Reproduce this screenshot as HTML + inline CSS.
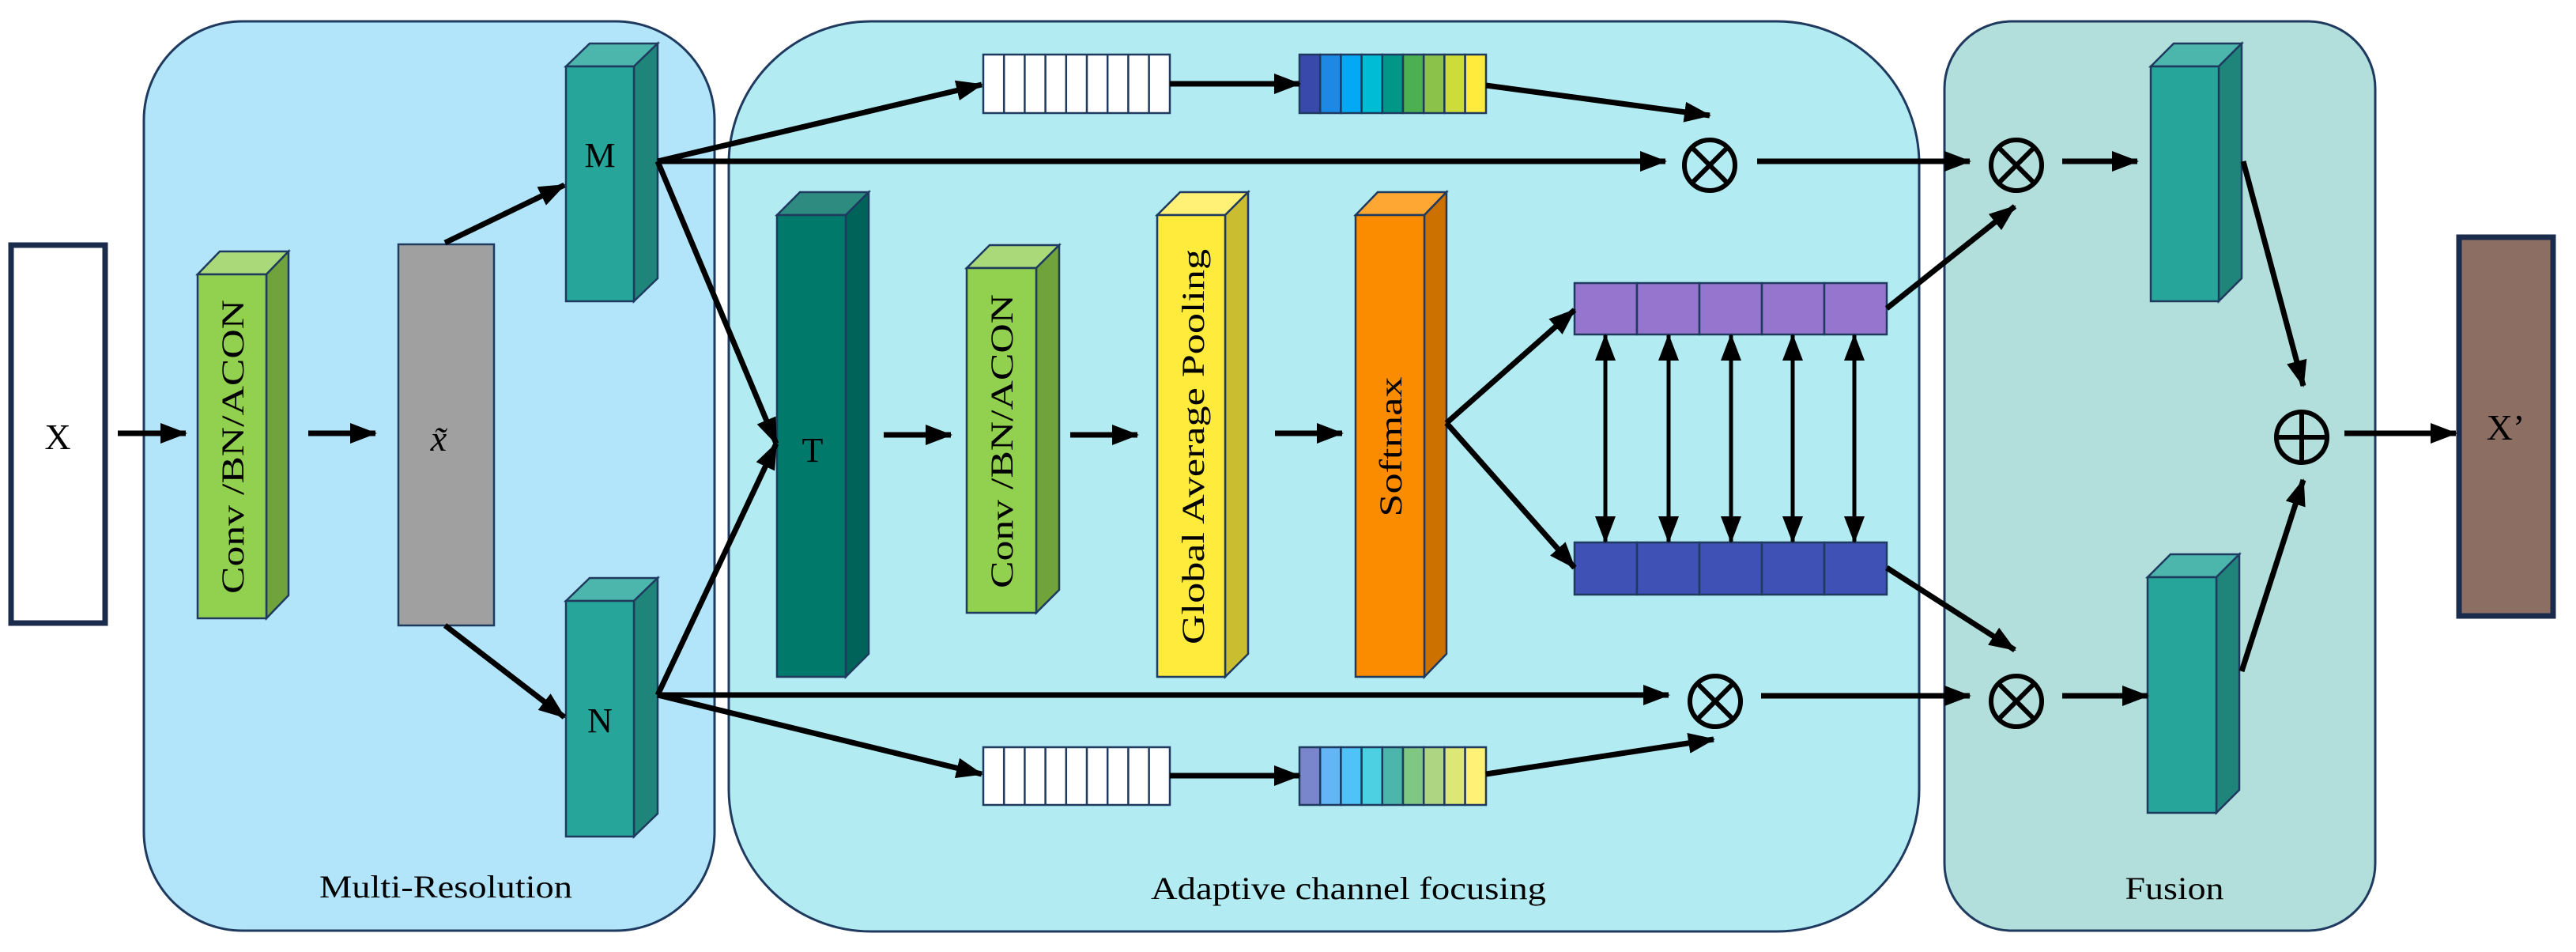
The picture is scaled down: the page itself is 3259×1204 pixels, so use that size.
<!DOCTYPE html>
<html><head><meta charset="utf-8"><style>html,body{margin:0;padding:0;background:#fff}svg{display:block}svg text{font-family:"Liberation Serif",serif}</style></head>
<body>
<svg width="3259" height="1204" viewBox="0 0 3259 1204" xmlns="http://www.w3.org/2000/svg" style="font-family:'Liberation Serif',serif">
<defs>
<marker id="a" markerUnits="userSpaceOnUse" markerWidth="34" markerHeight="26" refX="32" refY="13" orient="auto"><path d="M0,0 L34,13 L0,26 Z" fill="#000"/></marker>
<marker id="b" markerUnits="userSpaceOnUse" markerWidth="34" markerHeight="26" refX="2" refY="13" orient="auto"><path d="M34,0 L0,13 L34,26 Z" fill="#000"/></marker>
</defs>
<rect x="182" y="27" width="722" height="1150" rx="125" ry="125" fill="#b3e5fa" stroke="#1f3a5f" stroke-width="3"/>
<rect x="922" y="27" width="1506" height="1151" rx="180" ry="180" fill="#b2ebf2" stroke="#1f3a5f" stroke-width="3"/>
<rect x="2460" y="27" width="545" height="1150" rx="85" ry="85" fill="#b2dfdb" stroke="#1f3a5f" stroke-width="3"/>
<text x="564" y="1135" font-size="40" text-anchor="middle" textLength="320" lengthAdjust="spacingAndGlyphs">Multi-Resolution</text>
<text x="1706" y="1137" font-size="40" text-anchor="middle" textLength="500" lengthAdjust="spacingAndGlyphs">Adaptive channel focusing</text>
<text x="2751" y="1137" font-size="40" text-anchor="middle" textLength="125" lengthAdjust="spacingAndGlyphs">Fusion</text>

<rect x="14" y="310" width="119" height="478" fill="#fff" stroke="#1b2b4b" stroke-width="7"/>
<text x="73" y="568" font-size="46" text-anchor="middle">X</text>
<rect x="3111" y="300" width="119" height="479" fill="#8d6e63" stroke="#1b2b4b" stroke-width="7"/>
<text x="3170" y="556" font-size="46" text-anchor="middle">X’</text>

<g stroke="#1f3a5f" stroke-width="2.5">
<polygon points="250,347 278,318 365,318 337,347" fill="#a9d978"/>
<polygon points="337,347 365,318 365,753 337,782" fill="#70a33b"/>
<rect x="250" y="347" width="87" height="435" fill="#92d050"/>
<rect x="504" y="309" width="121" height="482" fill="#a0a0a0"/>
<polygon points="716,84 746,55 832,55 802,84" fill="#4db6ac"/>
<polygon points="802,84 832,55 832,352 802,381" fill="#1f857b"/>
<rect x="716" y="84" width="86" height="297" fill="#26a69a"/>
<polygon points="716,760 746,731 832,731 802,760" fill="#4db6ac"/>
<polygon points="802,760 832,731 832,1029 802,1058" fill="#1f857b"/>
<rect x="716" y="760" width="86" height="298" fill="#26a69a"/>
<polygon points="983,272 1012,243 1099,243 1070,272" fill="#2e8b80"/>
<polygon points="1070,272 1099,243 1099,827 1070,856" fill="#00635a"/>
<rect x="983" y="272" width="87" height="584" fill="#00796b"/>
<polygon points="1223,339 1252,310 1340,310 1311,339" fill="#a9d978"/>
<polygon points="1311,339 1340,310 1340,746 1311,775" fill="#70a33b"/>
<rect x="1223" y="339" width="88" height="436" fill="#92d050"/>
<polygon points="1464,272 1493,243 1579,243 1550,272" fill="#fff176"/>
<polygon points="1550,272 1579,243 1579,827 1550,856" fill="#cbbd30"/>
<rect x="1464" y="272" width="86" height="584" fill="#ffeb3b"/>
<polygon points="1715,272 1743,243 1830,243 1802,272" fill="#ffa733"/>
<polygon points="1802,272 1830,243 1830,827 1802,856" fill="#cc7000"/>
<rect x="1715" y="272" width="87" height="584" fill="#fb8c00"/>
<polygon points="2721,84 2750,55 2836,55 2807,84" fill="#4db6ac"/>
<polygon points="2807,84 2836,55 2836,352 2807,381" fill="#1f857b"/>
<rect x="2721" y="84" width="86" height="297" fill="#26a69a"/>
<polygon points="2717,730 2746,701 2833,701 2804,730" fill="#4db6ac"/>
<polygon points="2804,730 2833,701 2833,999 2804,1028" fill="#1f857b"/>
<rect x="2717" y="730" width="87" height="298" fill="#26a69a"/>
</g>

<text transform="translate(308,565) rotate(-90)" font-size="40" text-anchor="middle" textLength="372" lengthAdjust="spacingAndGlyphs">Conv /BN/ACON</text>
<text transform="translate(1281,558) rotate(-90)" font-size="40" text-anchor="middle" textLength="372" lengthAdjust="spacingAndGlyphs">Conv /BN/ACON</text>
<text transform="translate(1523,565) rotate(-90)" font-size="40" text-anchor="middle" textLength="500" lengthAdjust="spacingAndGlyphs">Global Average Pooling</text>
<text transform="translate(1773,565) rotate(-90)" font-size="40" text-anchor="middle" textLength="177" lengthAdjust="spacingAndGlyphs">Softmax</text>
<text x="555" y="570" font-size="46" font-style="italic" text-anchor="middle">x̃</text>
<text x="759" y="211" font-size="44" text-anchor="middle">M</text>
<text x="759" y="926" font-size="44" text-anchor="middle">N</text>
<text x="1028" y="584" font-size="44" text-anchor="middle">T</text>

<g stroke="#1f3a5f" stroke-width="2.5">
<rect x="1244" y="69" width="236" height="74" fill="#fff"/>
<rect x="1244" y="945" width="236" height="73" fill="#fff"/>
<rect x="1644" y="69" width="26.2" height="74" fill="#3949ab"/><rect x="1670.2" y="69" width="26.2" height="74" fill="#1e88e5"/><rect x="1696.4" y="69" width="26.2" height="74" fill="#03a9f4"/><rect x="1722.6" y="69" width="26.2" height="74" fill="#00bcd4"/><rect x="1748.8" y="69" width="26.2" height="74" fill="#009688"/><rect x="1775" y="69" width="26.2" height="74" fill="#4caf50"/><rect x="1801.2" y="69" width="26.2" height="74" fill="#8bc34a"/><rect x="1827.4" y="69" width="26.2" height="74" fill="#cddc39"/><rect x="1853.6" y="69" width="26.4" height="74" fill="#ffeb3b"/>
<rect x="1644" y="945" width="26.2" height="73" fill="#7986cb"/><rect x="1670.2" y="945" width="26.2" height="73" fill="#64b5f6"/><rect x="1696.4" y="945" width="26.2" height="73" fill="#4fc3f7"/><rect x="1722.6" y="945" width="26.2" height="73" fill="#4dd0e1"/><rect x="1748.8" y="945" width="26.2" height="73" fill="#4db6ac"/><rect x="1775" y="945" width="26.2" height="73" fill="#81c784"/><rect x="1801.2" y="945" width="26.2" height="73" fill="#aed581"/><rect x="1827.4" y="945" width="26.2" height="73" fill="#dce775"/><rect x="1853.6" y="945" width="26.4" height="73" fill="#fff176"/>
<rect x="1992" y="358" width="79" height="65" fill="#9575cd"/><rect x="2071" y="358" width="79" height="65" fill="#9575cd"/><rect x="2150" y="358" width="79" height="65" fill="#9575cd"/><rect x="2229" y="358" width="79" height="65" fill="#9575cd"/><rect x="2308" y="358" width="79" height="65" fill="#9575cd"/>
<rect x="1992" y="686" width="79" height="66" fill="#3f51b5"/><rect x="2071" y="686" width="79" height="66" fill="#3f51b5"/><rect x="2150" y="686" width="79" height="66" fill="#3f51b5"/><rect x="2229" y="686" width="79" height="66" fill="#3f51b5"/><rect x="2308" y="686" width="79" height="66" fill="#3f51b5"/>
</g>
<g stroke="#1f3a5f" stroke-width="2.5">
<line x1="1270.2" y1="69" x2="1270.2" y2="143"/><line x1="1296.4" y1="69" x2="1296.4" y2="143"/><line x1="1322.6" y1="69" x2="1322.6" y2="143"/><line x1="1348.8" y1="69" x2="1348.8" y2="143"/><line x1="1375" y1="69" x2="1375" y2="143"/><line x1="1401.2" y1="69" x2="1401.2" y2="143"/><line x1="1427.4" y1="69" x2="1427.4" y2="143"/><line x1="1453.6" y1="69" x2="1453.6" y2="143"/>
<line x1="1270.2" y1="945" x2="1270.2" y2="1018"/><line x1="1296.4" y1="945" x2="1296.4" y2="1018"/><line x1="1322.6" y1="945" x2="1322.6" y2="1018"/><line x1="1348.8" y1="945" x2="1348.8" y2="1018"/><line x1="1375" y1="945" x2="1375" y2="1018"/><line x1="1401.2" y1="945" x2="1401.2" y2="1018"/><line x1="1427.4" y1="945" x2="1427.4" y2="1018"/><line x1="1453.6" y1="945" x2="1453.6" y2="1018"/>
</g>

<g stroke="#000" stroke-width="7" fill="none">
<line x1="149" y1="548" x2="235" y2="548" marker-end="url(#a)"/>
<line x1="390" y1="548" x2="475" y2="548" marker-end="url(#a)"/>
<line x1="563" y1="307" x2="714" y2="234" marker-end="url(#a)"/>
<line x1="563" y1="791" x2="714" y2="907" marker-end="url(#a)"/>
<line x1="832" y1="204" x2="1242" y2="107" marker-end="url(#a)"/>
<line x1="832" y1="204" x2="2107" y2="204" marker-end="url(#a)"/>
<line x1="832" y1="204" x2="982" y2="561" marker-end="url(#a)"/>
<line x1="832" y1="879" x2="982" y2="561" marker-end="url(#a)"/>
<line x1="832" y1="879" x2="2111" y2="879" marker-end="url(#a)"/>
<line x1="832" y1="879" x2="1242" y2="979" marker-end="url(#a)"/>
<line x1="1480" y1="106" x2="1644" y2="106" marker-end="url(#a)"/>
<line x1="1480" y1="981" x2="1644" y2="981" marker-end="url(#a)"/>
<line x1="1880" y1="108" x2="2163" y2="146" marker-end="url(#a)"/>
<line x1="1880" y1="979" x2="2168" y2="935" marker-end="url(#a)"/>
<line x1="1118" y1="550" x2="1203" y2="550" marker-end="url(#a)"/>
<line x1="1354" y1="550" x2="1439" y2="550" marker-end="url(#a)"/>
<line x1="1613" y1="548" x2="1698" y2="548" marker-end="url(#a)"/>
<line x1="1830" y1="535" x2="1992" y2="392" marker-end="url(#a)"/>
<line x1="1830" y1="535" x2="1992" y2="718" marker-end="url(#a)"/>
<line x1="2223" y1="204" x2="2492" y2="204" marker-end="url(#a)"/>
<line x1="2228" y1="880" x2="2492" y2="880" marker-end="url(#a)"/>
<line x1="2387" y1="390" x2="2549" y2="261" marker-end="url(#a)"/>
<line x1="2387" y1="718" x2="2549" y2="822" marker-end="url(#a)"/>
<line x1="2609" y1="204" x2="2704" y2="204" marker-end="url(#a)"/>
<line x1="2609" y1="880" x2="2717" y2="880" marker-end="url(#a)"/>
<line x1="2838" y1="204" x2="2914" y2="488" marker-end="url(#a)"/>
<line x1="2836" y1="849" x2="2914" y2="607" marker-end="url(#a)"/>
<line x1="2966" y1="548" x2="3107" y2="548" marker-end="url(#a)"/>
</g>
<g stroke="#000" stroke-width="5" fill="none">
<line x1="2031" y1="424" x2="2031" y2="685" marker-start="url(#b)" marker-end="url(#a)"/>
<line x1="2111" y1="424" x2="2111" y2="685" marker-start="url(#b)" marker-end="url(#a)"/>
<line x1="2190" y1="424" x2="2190" y2="685" marker-start="url(#b)" marker-end="url(#a)"/>
<line x1="2268" y1="424" x2="2268" y2="685" marker-start="url(#b)" marker-end="url(#a)"/>
<line x1="2346" y1="424" x2="2346" y2="685" marker-start="url(#b)" marker-end="url(#a)"/>
</g>

<g stroke="#000" stroke-width="6" fill="none">
<circle cx="2163" cy="209" r="32"/><line x1="2140" y1="186" x2="2186" y2="232"/><line x1="2186" y1="186" x2="2140" y2="232"/>
<circle cx="2170" cy="887" r="32"/><line x1="2147" y1="864" x2="2193" y2="910"/><line x1="2193" y1="864" x2="2147" y2="910"/>
<circle cx="2551" cy="209" r="32"/><line x1="2528" y1="186" x2="2574" y2="232"/><line x1="2574" y1="186" x2="2528" y2="232"/>
<circle cx="2551" cy="887" r="32"/><line x1="2528" y1="864" x2="2574" y2="910"/><line x1="2574" y1="864" x2="2528" y2="910"/>
<circle cx="2912" cy="553" r="32"/><line x1="2880" y1="553" x2="2944" y2="553"/><line x1="2912" y1="521" x2="2912" y2="585"/>
</g>
</svg>
</body></html>
